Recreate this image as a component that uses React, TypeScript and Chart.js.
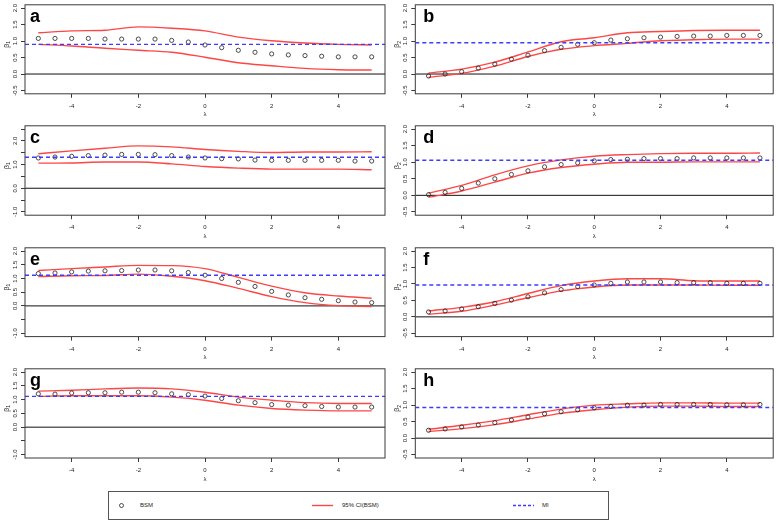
import React, { useEffect, useRef } from 'react';
import { Chart, registerables } from 'chart.js';

Chart.register(...registerables);

const FONT = '"Liberation Sans", Arial, Helvetica, sans-serif';
const AXIS_COLOR = '#3a3a3a';
const TEXT_COLOR = '#222';
const CI_COLOR = 'rgb(255,70,70)';
const MI_COLOR = 'rgb(60,60,255)';

// ---------- data ----------
const lambda = [-5, -4.5, -4, -3.5, -3, -2.5, -2, -1.5, -1, -0.5, 0, 0.5, 1, 1.5, 2, 2.5, 3, 3.5, 4, 4.5, 5];
const lambdaCI = [-5, -4, -3, -2, -1, 0, 1, 2, 3, 4, 5];
const xTicks = [-4, -2, 0, 2, 4];
const X_MIN = -5.4;
const X_MAX = 5.4;

const bsmA = [1.08, 1.08, 1.08, 1.08, 1.06, 1.06, 1.06, 1.06, 1.02, 0.97, 0.88, 0.80, 0.72, 0.66, 0.61, 0.58, 0.56, 0.54, 0.52, 0.52, 0.52];
const upA = [1.25, 1.31, 1.33, 1.43, 1.39, 1.31, 1.12, 1.01, 0.94, 0.90, 0.88];
const loA = [0.90, 0.85, 0.78, 0.72, 0.66, 0.51, 0.34, 0.25, 0.17, 0.13, 0.12];
const miA = 0.90;

const bsmB = [-0.06, 0.00, 0.07, 0.18, 0.30, 0.45, 0.57, 0.71, 0.81, 0.90, 0.95, 1.03, 1.07, 1.10, 1.12, 1.14, 1.15, 1.15, 1.17, 1.17, 1.17];
const upB = [0.03, 0.15, 0.36, 0.67, 0.98, 1.10, 1.25, 1.29, 1.32, 1.33, 1.33];
const loB = [-0.10, 0.02, 0.24, 0.53, 0.75, 0.86, 0.93, 1.01, 1.04, 1.06, 1.06];
const miB = 0.95;

const bsmC = [1.28, 1.32, 1.35, 1.38, 1.40, 1.43, 1.43, 1.42, 1.38, 1.32, 1.28, 1.25, 1.24, 1.19, 1.18, 1.18, 1.18, 1.18, 1.18, 1.15, 1.15];
const upC = [1.46, 1.58, 1.69, 1.79, 1.75, 1.64, 1.56, 1.51, 1.53, 1.53, 1.54];
const loC = [1.06, 1.07, 1.11, 1.11, 1.03, 0.92, 0.85, 0.81, 0.81, 0.81, 0.78];
const miC = 1.31;

const bsmD = [0.02, 0.09, 0.21, 0.37, 0.50, 0.63, 0.74, 0.86, 0.93, 0.98, 1.04, 1.08, 1.09, 1.11, 1.11, 1.11, 1.13, 1.13, 1.13, 1.13, 1.13];
const upD = [0.07, 0.30, 0.62, 0.89, 1.07, 1.18, 1.23, 1.26, 1.27, 1.27, 1.28];
const loD = [-0.06, 0.13, 0.40, 0.67, 0.84, 0.94, 1.00, 1.00, 1.01, 1.01, 1.01];
const miD = 1.06;

const bsmE = [1.18, 1.20, 1.24, 1.27, 1.28, 1.29, 1.31, 1.31, 1.28, 1.22, 1.12, 1.00, 0.86, 0.71, 0.53, 0.40, 0.30, 0.24, 0.19, 0.14, 0.12];
const upE = [1.29, 1.36, 1.42, 1.48, 1.47, 1.36, 1.04, 0.72, 0.48, 0.36, 0.28];
const loE = [1.07, 1.10, 1.11, 1.16, 1.08, 0.92, 0.64, 0.34, 0.12, 0.01, -0.02];
const miE = 1.12;

const bsmF = [0.15, 0.18, 0.24, 0.31, 0.41, 0.51, 0.61, 0.73, 0.83, 0.92, 0.97, 1.02, 1.06, 1.06, 1.06, 1.04, 1.04, 1.04, 1.02, 1.02, 1.02];
const upF = [0.18, 0.29, 0.46, 0.71, 0.95, 1.09, 1.16, 1.16, 1.10, 1.09, 1.09];
const loF = [0.08, 0.17, 0.36, 0.58, 0.79, 0.91, 0.97, 0.97, 0.97, 0.96, 0.96];
const miF = 0.97;

const bsmG = [1.21, 1.20, 1.24, 1.25, 1.25, 1.27, 1.27, 1.25, 1.21, 1.18, 1.13, 1.04, 0.96, 0.89, 0.82, 0.80, 0.78, 0.75, 0.73, 0.73, 0.73];
const upG = [1.31, 1.34, 1.39, 1.42, 1.39, 1.27, 1.09, 0.98, 0.89, 0.86, 0.86];
const loG = [1.12, 1.14, 1.14, 1.14, 1.09, 0.98, 0.80, 0.68, 0.62, 0.59, 0.59];
const miG = 1.12;

const bsmH = [0.24, 0.28, 0.34, 0.40, 0.47, 0.55, 0.64, 0.74, 0.80, 0.86, 0.92, 0.96, 1.00, 1.00, 1.02, 1.02, 1.02, 1.02, 1.01, 1.01, 1.02];
const upH = [0.27, 0.39, 0.53, 0.71, 0.88, 1.00, 1.04, 1.07, 1.07, 1.06, 1.06];
const loH = [0.20, 0.29, 0.41, 0.58, 0.75, 0.86, 0.94, 0.97, 0.97, 0.96, 0.96];
const miH = 0.93;

// y axis tick sets
const yTicksStd = [-0.5, 0, 0.5, 1, 1.5, 2];
const yLabelsStd = [-0.5, 0, 0.5, 1, 1.5, 2];
const yTicksC = [-1, -0.5, 0, 0.5, 1, 1.5, 2, 2.5];
const yLabelsC = [-1, 0, 1, 2];
const yTicksEG = [-1, -0.5, 0, 0.5, 1, 1.5, 2];
const yLabelsEG = [-1, 0, 0.5, 1, 1.5, 2];
const yRangeStd = [-0.6, 2.1];
const yRangeC = [-1.14, 2.64];
const yRangeEG = [-1.12, 2.12];

const legendLabels = ['BSM', '95% CI(BSM)', 'MI'];

// ---------- layout ----------
const BOX_H = 92.2;
const CANVAS_H = 121;
const rowCanvasTop = [0, 121, 243, 364];
const rowBoxTop = [1.6, 123, 244.4, 365.8];
const colLayout = [
  { left: 0, width: 390, axisW: 25, padRight: 5, letterDx: 5 },
  { left: 390, width: 388, axisW: 25.3, padRight: 2.5, letterDx: 8 },
];

type PanelSpec = {
  letter: string;
  sub: string;
  bsm: number[];
  up: number[];
  lo: number[];
  mi: number;
  yRange: number[];
  yTicks: number[];
  yLabels: number[];
  row: number;
  col: number;
};

const panels: PanelSpec[] = [
  { letter: 'a', sub: '1', bsm: bsmA, up: upA, lo: loA, mi: miA, yRange: yRangeStd, yTicks: yTicksStd, yLabels: yLabelsStd, row: 0, col: 0 },
  { letter: 'b', sub: '2', bsm: bsmB, up: upB, lo: loB, mi: miB, yRange: yRangeStd, yTicks: yTicksStd, yLabels: yLabelsStd, row: 0, col: 1 },
  { letter: 'c', sub: '1', bsm: bsmC, up: upC, lo: loC, mi: miC, yRange: yRangeC, yTicks: yTicksC, yLabels: yLabelsC, row: 1, col: 0 },
  { letter: 'd', sub: '2', bsm: bsmD, up: upD, lo: loD, mi: miD, yRange: yRangeStd, yTicks: yTicksStd, yLabels: yLabelsStd, row: 1, col: 1 },
  { letter: 'e', sub: '1', bsm: bsmE, up: upE, lo: loE, mi: miE, yRange: yRangeEG, yTicks: yTicksEG, yLabels: yLabelsEG, row: 2, col: 0 },
  { letter: 'f', sub: '2', bsm: bsmF, up: upF, lo: loF, mi: miF, yRange: yRangeStd, yTicks: yTicksStd, yLabels: yLabelsStd, row: 2, col: 1 },
  { letter: 'g', sub: '1', bsm: bsmG, up: upG, lo: loG, mi: miG, yRange: yRangeEG, yTicks: yTicksEG, yLabels: yLabelsEG, row: 3, col: 0 },
  { letter: 'h', sub: '2', bsm: bsmH, up: upH, lo: loH, mi: miH, yRange: yRangeStd, yTicks: yTicksStd, yLabels: yLabelsStd, row: 3, col: 1 },
];

function makeDecor(spec: PanelSpec, letterDx: number) {
  return {
    id: 'decor_' + spec.letter,
    afterDraw(chart: any) {
      const { ctx, chartArea: ca } = chart;
      const xs = chart.scales.x;
      const ys = chart.scales.y;
      ctx.save();
      // box
      ctx.strokeStyle = AXIS_COLOR;
      ctx.lineWidth = 1;
      ctx.strokeRect(ca.left, ca.top, ca.right - ca.left, ca.bottom - ca.top);
      // x tick labels + title
      ctx.fillStyle = TEXT_COLOR;
      ctx.font = `6px ${FONT}`;
      ctx.textAlign = 'center';
      ctx.textBaseline = 'middle';
      for (const v of xTicks) {
        ctx.fillText(String(v), xs.getPixelForValue(v), ca.bottom + 12.5);
      }
      ctx.fillText('λ', (ca.left + ca.right) / 2, ca.bottom + 21);
      // y tick labels (rotated, parallel to axis)
      for (const v of spec.yLabels) {
        ctx.save();
        ctx.translate(ca.left - 10, ys.getPixelForValue(v));
        ctx.rotate(-Math.PI / 2);
        ctx.fillText(v.toFixed(1), 0, 0);
        ctx.restore();
      }
      // y title beta with subscript
      ctx.save();
      ctx.translate(ca.left - 18, (ca.top + ca.bottom) / 2 - 5);
      ctx.rotate(-Math.PI / 2);
      ctx.textAlign = 'left';
      ctx.textBaseline = 'middle';
      ctx.font = `7px ${FONT}`;
      const wb = ctx.measureText('β').width;
      ctx.font = `5px ${FONT}`;
      const ws = ctx.measureText(spec.sub).width;
      const x0 = -(wb + ws) / 2;
      ctx.font = `7px ${FONT}`;
      ctx.fillText('β', x0, 0);
      ctx.font = `5px ${FONT}`;
      ctx.fillText(spec.sub, x0 + wb, 2);
      ctx.restore();
      // panel letter
      ctx.fillStyle = '#000';
      ctx.font = `bold 18px ${FONT}`;
      ctx.textAlign = 'left';
      ctx.textBaseline = 'alphabetic';
      ctx.fillText(spec.letter, ca.left + letterDx, ca.top + 17);
      ctx.restore();
    },
  };
}

function Panel({ spec }: { spec: PanelSpec }) {
  const ref = useRef<HTMLCanvasElement | null>(null);
  const col = colLayout[spec.col];
  const canvasTop = rowCanvasTop[spec.row];
  const padTop = rowBoxTop[spec.row] - canvasTop;
  const xAxisH = CANVAS_H - padTop - BOX_H;

  useEffect(() => {
    if (!ref.current) return;
    const gridCommon = {
      drawOnChartArea: false,
      drawTicks: true,
      tickLength: 4,
      color: AXIS_COLOR,
      lineWidth: 1,
    };
    const chart = new Chart(ref.current, {
      type: 'line',
      data: {
        datasets: [
          {
            label: legendLabels[2],
            data: [{ x: X_MIN, y: spec.mi }, { x: X_MAX, y: spec.mi }],
            borderColor: MI_COLOR,
            borderWidth: 1.4,
            borderDash: [4, 3],
            pointRadius: 0,
            fill: false,
          },
          {
            label: legendLabels[0],
            data: lambda.map((x, i) => ({ x, y: spec.bsm[i] })),
            showLine: false,
            pointRadius: 2.1,
            pointBorderWidth: 0.8,
            pointBorderColor: '#222',
            pointBackgroundColor: 'rgba(0,0,0,0)',
            borderColor: '#222',
          },
          {
            label: legendLabels[1] + ' upper',
            data: lambdaCI.map((x, i) => ({ x, y: spec.up[i] })),
            borderColor: CI_COLOR,
            borderWidth: 1.4,
            pointRadius: 0,
            cubicInterpolationMode: 'monotone',
            fill: false,
          },
          {
            label: legendLabels[1] + ' lower',
            data: lambdaCI.map((x, i) => ({ x, y: spec.lo[i] })),
            borderColor: CI_COLOR,
            borderWidth: 1.4,
            pointRadius: 0,
            cubicInterpolationMode: 'monotone',
            fill: false,
          },
          {
            label: 'zero',
            data: [{ x: X_MIN, y: 0 }, { x: X_MAX, y: 0 }],
            borderColor: '#111',
            borderWidth: 1,
            pointRadius: 0,
            fill: false,
          },
        ],
      },
      options: {
        animation: false,
        responsive: false,
        maintainAspectRatio: false,
        events: [],
        layout: { padding: { top: padTop, left: 0, right: col.padRight, bottom: 0 } },
        plugins: { legend: { display: false }, tooltip: { enabled: false }, title: { display: false } },
        scales: {
          x: {
            type: 'linear',
            min: X_MIN,
            max: X_MAX,
            afterBuildTicks: (s: any) => {
              s.ticks = xTicks.map((v) => ({ value: v }));
            },
            afterFit: (s: any) => {
              s.height = xAxisH;
            },
            ticks: { display: false },
            grid: gridCommon,
            border: { display: false },
          },
          y: {
            type: 'linear',
            min: spec.yRange[0],
            max: spec.yRange[1],
            afterBuildTicks: (s: any) => {
              s.ticks = spec.yTicks.map((v) => ({ value: v }));
            },
            afterFit: (s: any) => {
              s.width = col.axisW;
            },
            ticks: { display: false },
            grid: gridCommon,
            border: { display: false },
          },
        },
      } as any,
      plugins: [makeDecor(spec, col.letterDx)],
    });
    return () => chart.destroy();
  }, []);

  return (
    <canvas
      ref={ref}
      width={col.width}
      height={CANVAS_H}
      style={{ position: 'absolute', left: col.left, top: canvasTop, width: col.width, height: CANVAS_H }}
    />
  );
}

function Legend() {
  const textStyle: React.CSSProperties = {
    position: 'absolute',
    top: 0,
    height: 27,
    lineHeight: '27px',
    fontFamily: FONT,
    fontSize: 6,
    color: TEXT_COLOR,
    whiteSpace: 'nowrap',
  };
  return (
    <div
      style={{
        position: 'absolute',
        left: 108,
        top: 491,
        width: 501,
        height: 29,
        boxSizing: 'border-box',
        border: '1px solid #555',
        background: '#fff',
      }}
    >
      <svg width="501" height="27" style={{ position: 'absolute', left: 0, top: 0 }}>
        <circle cx={12.5} cy={13.5} r={2} fill="none" stroke="#222" strokeWidth={0.8} />
        <line x1={203} y1={13.5} x2={224} y2={13.5} stroke={CI_COLOR} strokeWidth={1.4} />
        <line x1={404} y1={13.5} x2={425} y2={13.5} stroke={MI_COLOR} strokeWidth={1.4} strokeDasharray="3 2" />
      </svg>
      <span style={{ ...textStyle, left: 31 }}>{legendLabels[0]}</span>
      <span style={{ ...textStyle, left: 233 }}>{legendLabels[1]}</span>
      <span style={{ ...textStyle, left: 433 }}>{legendLabels[2]}</span>
    </div>
  );
}

export default function App() {
  return (
    <div style={{ position: 'absolute', left: 0, top: 0, width: 778, height: 522, background: '#fff', overflow: 'hidden' }}>
      {panels.map((p) => (
        <Panel key={p.letter} spec={p} />
      ))}
      <Legend />
    </div>
  );
}
